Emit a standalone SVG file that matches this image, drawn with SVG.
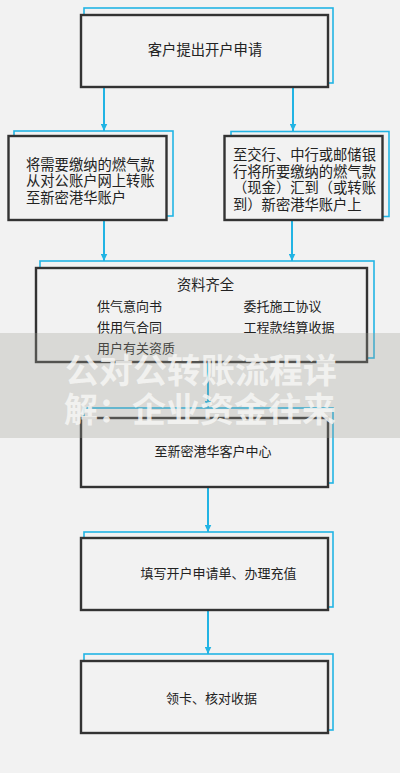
<svg xmlns="http://www.w3.org/2000/svg" width="400" height="773" viewBox="0 0 400 773">
  <defs>
    <marker id="arrow" markerUnits="userSpaceOnUse" markerWidth="8" markerHeight="7" refX="7.5" refY="3.5" orient="auto">
      <path d="M0,0 L7.5,3.5 L0,7 Z" fill="#22b4e4"/>
    </marker>
    <style>
      .back { fill: none; stroke: #22b4e4; stroke-width: 1.6; }
      .box { fill: #f2f2f2; stroke: #333333; stroke-width: 2.4; }
      .t { font-family: "Noto Sans CJK SC", "Noto Sans", sans-serif; fill: #222222; dominant-baseline: central; }
      .l { font-size: 14.3px; }
      .s { font-size: 13px; }
      .mid { text-anchor: middle; }
      .conn { stroke: #22b4e4; stroke-width: 2; fill: none; marker-end: url(#arrow); }
      .wm { font-family: "Noto Sans CJK SC", "Noto Sans", sans-serif; font-weight: bold; font-size: 34px; fill: #f6f6f4; fill-opacity: 0.85; text-anchor: middle; dominant-baseline: central; }
    </style>
  </defs>
  <rect x="0" y="0" width="400" height="773" fill="#f2f2f2"/>

  <g id="connectors">
    <line class="conn" x1="104" y1="88" x2="104" y2="131"/>
    <line class="conn" x1="293" y1="88" x2="293" y2="131"/>
    <line class="conn" x1="104" y1="221" x2="104" y2="261"/>
    <line class="conn" x1="292" y1="221" x2="292" y2="261"/>
    <line class="conn" x1="208" y1="363" x2="208" y2="408"/>
    <line class="conn" x1="208" y1="488" x2="208" y2="532"/>
    <line class="conn" x1="208" y1="611" x2="208" y2="654"/>
  </g>

  <g id="node-apply">
    <rect class="back" x="84" y="8" width="249" height="75"/>
    <rect class="box" x="81" y="15" width="247" height="72"/>
    <text class="t l mid" x="205" y="48">客户提出开户申请</text>
  </g>

  <g id="node-online">
    <rect class="back" x="14" y="131" width="159" height="85"/>
    <rect class="box" x="8.5" y="136" width="158" height="84"/>
    <text class="t l" x="26" y="163">将需要缴纳的燃气款</text>
    <text class="t l" x="26" y="179.5">从对公账户网上转账</text>
    <text class="t l" x="26" y="196">至新密港华账户</text>
  </g>

  <g id="node-bank">
    <rect class="back" x="231" y="131.5" width="158" height="85"/>
    <rect class="box" x="224.5" y="136" width="158" height="84"/>
    <text class="t l" x="233" y="153.5">至交行、中行或邮储银</text>
    <text class="t l" x="233" y="170">行将所要缴纳的燃气款</text>
    <text class="t l" x="233" y="186.5">（现金）汇到（或转账</text>
    <text class="t l" x="233" y="203">到）新密港华账户上</text>
  </g>

  <g id="node-docs">
    <rect class="back" x="40" y="261" width="334" height="97"/>
    <rect class="box" x="36" y="268" width="331" height="94"/>
    <text class="t l mid" x="205.5" y="283">资料齐全</text>
    <text class="t s" x="97" y="305">供气意向书</text>
    <text class="t s" x="243.5" y="305">委托施工协议</text>
    <text class="t s" x="97" y="326">供用气合同</text>
    <text class="t s" x="243.5" y="326">工程款结算收据</text>
    <text class="t s" x="97" y="347">用户有关资质</text>
  </g>

  <g id="node-center">
    <rect class="back" x="84" y="408" width="249" height="75"/>
    <rect class="box" x="81" y="418" width="247" height="69"/>
    <text class="t s mid" x="213" y="450">至新密港华客户中心</text>
  </g>

  <g id="node-form">
    <rect class="back" x="84" y="532" width="249" height="75"/>
    <rect class="box" x="81" y="538" width="247" height="72"/>
    <text class="t s mid" x="218.5" y="572">填写开户申请单、办理充值</text>
  </g>

  <g id="node-card">
    <rect class="back" x="84" y="654" width="249" height="76"/>
    <rect class="box" x="81" y="661" width="247" height="72"/>
    <text class="t s mid" x="211.5" y="697">领卡、核对收据</text>
  </g>

  <g id="watermark">
    <rect x="0" y="333" width="400" height="105" fill="#a0a096" fill-opacity="0.3"/>
    <text class="wm" x="201" y="368">公对公转账流程详</text>
    <text class="wm" x="200" y="407">解：企业资金往来</text>
  </g>
</svg>
